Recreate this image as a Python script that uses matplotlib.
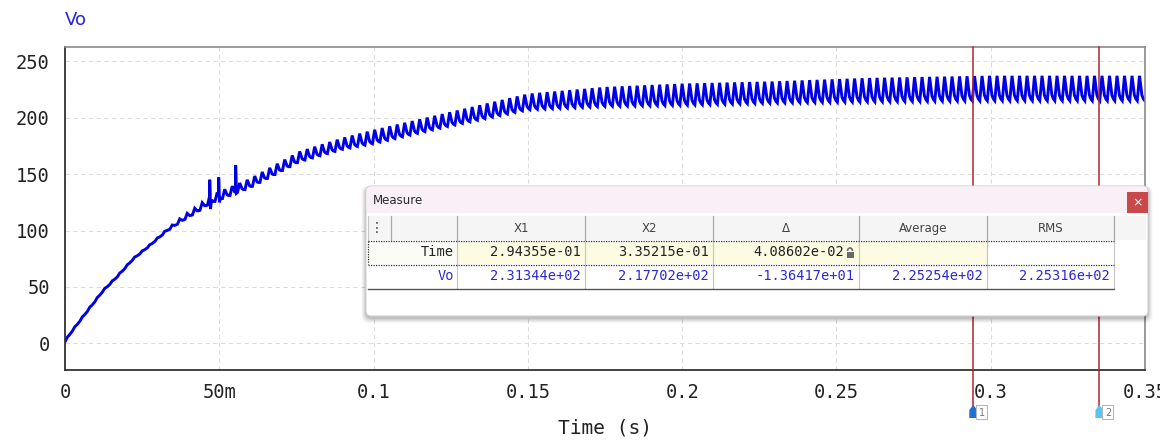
import numpy as np
import matplotlib
matplotlib.use("Agg")
import matplotlib.pyplot as plt
from matplotlib.patches import FancyBboxPatch, Rectangle, Polygon, Arc
import matplotlib.transforms as mtransforms

# ---------------- waveform data (Vo, volts) ----------------
env_t = [0.000, 0.0021, 0.007, 0.0124, 0.0168, 0.0221, 0.0275, 0.033, 0.0384,
         0.0438, 0.047, 0.060, 0.076, 0.090, 0.100, 0.122, 0.150, 0.175,
         0.200, 0.230, 0.260, 0.300, 0.350]
env_upper = [2.5, 11, 28.5, 47.5, 59.5, 75.5, 87.5, 101, 113,
             123, 131, 146, 170, 182, 189, 203, 221, 227,
             230, 232, 235, 237, 237]
env_lower = [1.5, 10, 27.5, 46.5, 58.5, 74.5, 86.5, 99.5, 109,
             118, 124, 138, 161, 172, 177, 191, 207, 210,
             211, 213, 214, 215, 215]
ripple_period = 2.43e-3
cycle_phase = [0.0, 0.30, 0.62, 0.80]
cycle_level = [0.0, 1.0, 0.22, 0.08]

spike_t = [0.0469, 0.0498, 0.0553]
spike_hi = [145, 147, 158]
spike_lo = [119, 125, 133]

# ---------------- cursor / measure data ----------------
cursor_x = [0.294355, 0.335215]
xtick_vals = [0, 0.05, 0.1, 0.15, 0.2, 0.25, 0.3, 0.35]
xtick_text = ["0", "50m", "0.1", "0.15", "0.2", "0.25", "0.3", "0.35"]
ytick_vals = [0, 50, 100, 150, 200, 250]

meas_cols = ["X1", "X2", "\u0394", "Average", "RMS"]
meas_time = ["2.94355e-01", "3.35215e-01", "4.08602e-02", "", ""]
meas_vo = ["2.31344e+02", "2.17702e+02", "-1.36417e+01", "2.25254e+02", "2.25316e+02"]

# ---------------- build the trace ----------------
n_cycles = int(np.ceil(0.35 / ripple_period)) + 1
tt, vv = [], []
for k in range(n_cycles):
    for ph, lv in zip(cycle_phase, cycle_level):
        t = (k + ph) * ripple_period
        if t > 0.35:
            break
        lo = np.interp(t, env_t, env_lower)
        hi = np.interp(t, env_t, env_upper)
        tt.append(t)
        vv.append(lo + lv * (hi - lo))
tt = np.array(tt)
vv = np.array(vv)
# switching transients
for ts, sh, sl in zip(spike_t, spike_hi, spike_lo):
    base = np.interp(ts, tt, vv)
    after = np.interp(ts + 6e-4, tt, vv)
    ins_t = [ts - 1e-5, ts, ts + 2.5e-4, ts + 6e-4]
    ins_v = [base, sh, sl, after]
    keep = (tt < ts - 1e-5) | (tt > ts + 6e-4)
    tt = np.concatenate([tt[keep], ins_t])
    vv = np.concatenate([vv[keep], ins_v])
    order = np.argsort(tt)
    tt, vv = tt[order], vv[order]

# ---------------- figure ----------------
W, H = 1160, 447
fig = plt.figure(figsize=(W / 100, H / 100), dpi=100)
fig.patch.set_facecolor("white")

ax_l, ax_r, ax_t, ax_b = 65, 1145, 47, 370
ax = fig.add_axes([ax_l / W, 1 - ax_b / H, (ax_r - ax_l) / W, (ax_b - ax_t) / H])
ax.plot(tt, vv, color="#0000e6", lw=2.1, solid_joinstyle="miter")
ax.set_xlim(0, 0.35)
ax.set_ylim(-23.5, 262.5)
ax.set_xticks(xtick_vals)
ax.set_xticklabels(xtick_text)
ax.set_yticks(ytick_vals)
mono = "DejaVu Sans Mono"
ax.tick_params(length=0, labelsize=13.5, colors="#222222")
ax.tick_params(axis="y", pad=11)
ax.tick_params(axis="x", pad=9)
for lab in ax.get_xticklabels() + ax.get_yticklabels():
    lab.set_family(mono)
ax.grid(True, color="#dcdcdc", ls=(0, (4, 3)), lw=0.8)
for side in ["left", "bottom"]:
    ax.spines[side].set_color("#333333")
    ax.spines[side].set_linewidth(1.3)
for side in ["top", "right"]:
    ax.spines[side].set_color("#8a8a8a")
    ax.spines[side].set_linewidth(1.2)
ax.set_xlabel("Time (s)", family=mono, fontsize=14, color="#222222", labelpad=12)

fig.text(65 / W, 1 - 20 / H, "Vo", color="#2525dd", fontsize=13,
         family="DejaVu Sans", va="center", ha="left")

# cursors
trans = mtransforms.blended_transform_factory(ax.transData, ax.transAxes)
for cx in cursor_x:
    ax.plot([cx, cx], [1.0, -0.125], transform=trans, color="#b3232d",
            lw=1.1, clip_on=False, zorder=4)

# ---------------- overlay in pixel coordinates ----------------
ov = fig.add_axes([0, 0, 1, 1], zorder=10)
ov.set_xlim(0, W)
ov.set_ylim(H, 0)
ov.axis("off")
ov.patch.set_alpha(0)

# cursor markers below the axis
marker_cols = ["#1f6fcf", "#5cc3f2"]
for i, cx in enumerate(cursor_x):
    px = ax_l + (ax_r - ax_l) * cx / 0.35
    ov.add_patch(Polygon([[px - 4, 418], [px + 4, 418], [px + 4, 410],
                          [px, 405], [px - 4, 410]], closed=True,
                         fc=marker_cols[i], ec="none"))
    ov.add_patch(Rectangle((px + 3, 405), 11, 14, fc="white", ec="#b8b8b8", lw=0.8))
    ov.text(px + 8.5, 412.5, str(i + 1), fontsize=7, color="#777777",
            ha="center", va="center", family="DejaVu Sans")

# measure window with soft shadow
wx0, wx1, wy0, wy1 = 366, 1148, 186, 316
for k, a in zip(range(8, 0, -1), [0.015, 0.02, 0.025, 0.03, 0.035, 0.04, 0.05, 0.06]):
    ov.add_patch(FancyBboxPatch((wx0 - k * 0.6, wy0 - k * 0.3 + 2), (wx1 - wx0) + k * 1.2,
                                (wy1 - wy0) + k * 1.0,
                                boxstyle="round,pad=0,rounding_size=7",
                                fc="black", ec="none", alpha=a))
ov.add_patch(FancyBboxPatch((wx0, wy0), wx1 - wx0, wy1 - wy0,
                            boxstyle="round,pad=0,rounding_size=5",
                            fc="white", ec="#d6d0d6", lw=0.8))
ov.add_patch(FancyBboxPatch((wx0 + 0.5, wy0 + 0.5), wx1 - wx0 - 1, 26,
                            boxstyle="round,pad=0,rounding_size=5",
                            fc="#f8eff7", ec="none"))
ov.add_patch(Rectangle((wx0 + 0.5, wy0 + 10), wx1 - wx0 - 1, 17, fc="#f8eff7", ec="none"))
ov.text(373, 200.5, "Measure", fontsize=8.5, color="#2a2a2a", va="center",
        ha="left", family="DejaVu Sans")
# close button
ov.add_patch(Rectangle((1127, 192), 21, 21, fc="#c9484a", ec="none"))
ov.text(1137.5, 202.5, "\u00d7", fontsize=9, color="white", ha="center",
        va="center", family="DejaVu Sans")

# table grid
col_x = [368, 391, 457, 585, 713, 859, 987, 1114]
hdr_y0, hdr_y1 = 216, 240
row1_y0, row1_y1 = 241, 264
row2_y0, row2_y1 = 265, 288

# header cells
ov.add_patch(Rectangle((col_x[0], hdr_y0), col_x[-1] - col_x[0], hdr_y1 - hdr_y0,
                       fc="#f5f5f5", ec="none"))
ov.add_patch(Rectangle((col_x[-1], hdr_y0), wx1 - 2 - col_x[-1], hdr_y1 - hdr_y0,
                       fc="#f5f5f5", ec="none"))
# time row: yellow value cells
for i in range(2, 7):
    fc = "#fdfbe2" if i < 6 else "white"
    ov.add_patch(Rectangle((col_x[i], row1_y0), col_x[i + 1] - col_x[i],
                           row1_y1 - row1_y0, fc=fc, ec="none"))
ov.add_patch(Rectangle((col_x[0], row1_y0), col_x[2] - col_x[0],
                       row1_y1 - row1_y0, fc="#fcfcf6", ec="none"))

# vertical separators
for x in col_x[1:]:
    ov.plot([x, x], [hdr_y0, hdr_y1], color="#a8a8a8", lw=0.9)
for x in col_x[2:]:
    ov.plot([x, x], [row1_y0, row2_y1], color="#c4c4c4", lw=0.8)
ov.plot([col_x[0], col_x[0]], [hdr_y0, hdr_y1], color="#c8c8c8", lw=0.8)

# focus rectangle around the time row and rule lines
ov.plot([col_x[0], col_x[-1]], [hdr_y1 + 0.5, hdr_y1 + 0.5], color="#333333",
        lw=0.9, ls=(0, (1, 1)))
ov.plot([col_x[0], col_x[-1]], [row1_y1 + 0.5, row1_y1 + 0.5], color="#333333",
        lw=0.9, ls=(0, (1, 1)))
ov.plot([col_x[0], col_x[0]], [row1_y0, row1_y1], color="#333333", lw=0.9, ls=(0, (1, 1)))
ov.plot([col_x[0], col_x[-1]], [row2_y1 + 0.5, row2_y1 + 0.5], color="#555555", lw=1.0)

# texts
ov.text(377, (hdr_y0 + hdr_y1) / 2, "\u22ee", fontsize=10, color="#444444",
        ha="center", va="center", family="DejaVu Sans")
for i, name in enumerate(meas_cols):
    cxm = (col_x[i + 2] + col_x[i + 3]) / 2
    ov.text(cxm, (hdr_y0 + hdr_y1) / 2 + 0.5, name, fontsize=8.5, color="#444444",
            ha="center", va="center", family="DejaVu Sans")
ov.text(col_x[2] - 3, (row1_y0 + row1_y1) / 2, "Time", fontsize=9.8, color="#222222",
        ha="right", va="center", family=mono)
ov.text(col_x[2] - 3, (row2_y0 + row2_y1) / 2, "Vo", fontsize=9.8, color="#2a2ad4",
        ha="right", va="center", family=mono)
for i, s in enumerate(meas_time):
    if s:
        pad = 15 if i == 2 else 4
        ov.text(col_x[i + 3] - pad, (row1_y0 + row1_y1) / 2, s, fontsize=9.8,
                color="#222222", ha="right", va="center", family=mono)
for i, s in enumerate(meas_vo):
    ov.text(col_x[i + 3] - 4, (row2_y0 + row2_y1) / 2, s, fontsize=9.8,
            color="#2a2ad4", ha="right", va="center", family=mono)

# lock glyph beside the delta value
lx, ly = col_x[5] - 9, (row1_y0 + row1_y1) / 2
ov.add_patch(Rectangle((lx - 3.5, ly - 1), 7, 6, fc="#6a6a6a", ec="none"))
ov.add_patch(Arc((lx, ly - 1.5), 5, 6, theta1=180, theta2=360, color="#6a6a6a", lw=1.2))

fig.savefig("out.png", dpi=100, facecolor="white")
